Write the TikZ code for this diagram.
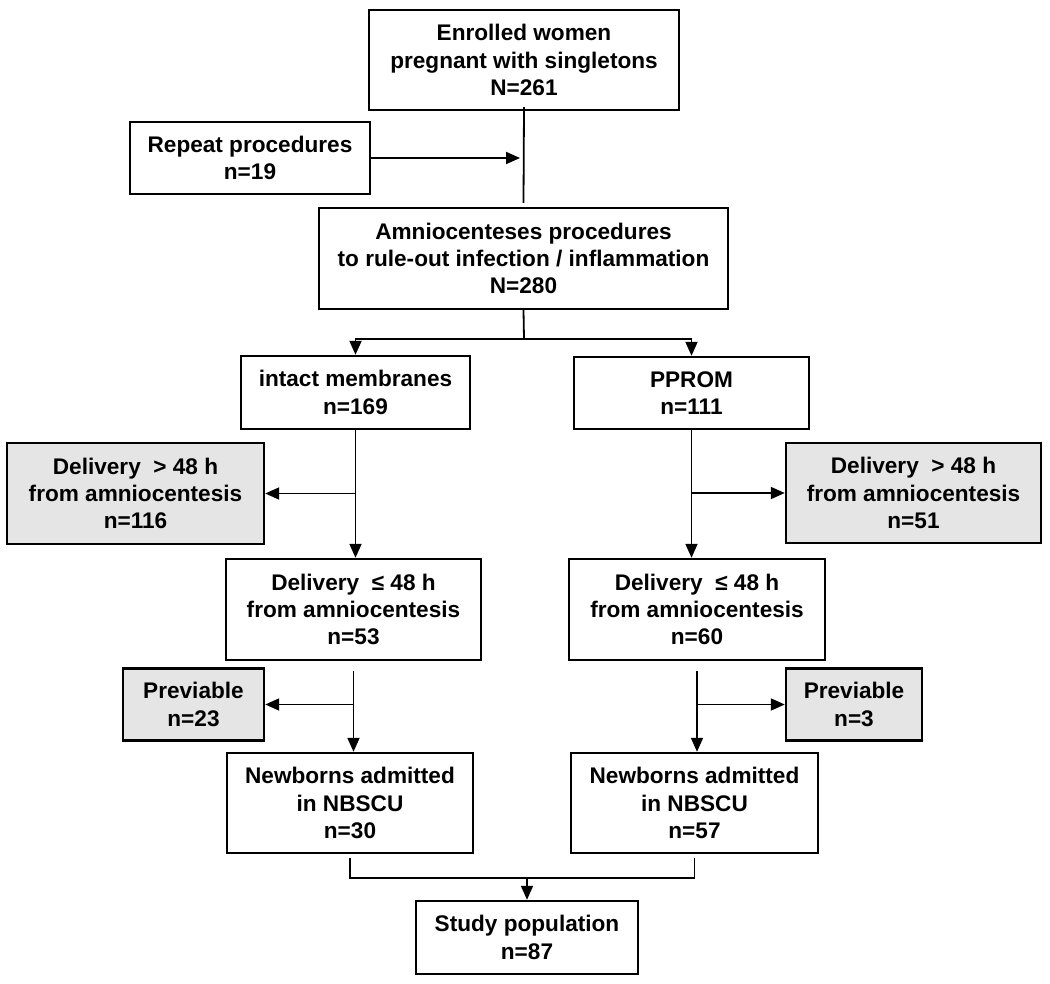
\documentclass[tikz,border=0pt]{standalone}
\usepackage{fontspec}
\setmainfont{Liberation Sans}
\usetikzlibrary{arrows.meta,positioning}
\definecolor{shade}{gray}{.9}
\def\Amn{from amniocentesis}

\begin{document}
\begin{tikzpicture}[x=0.5pt,y=-0.5pt,% one unit = one pixel of the 1050x984 page
			every node/.style={
				align=center,  		% so that "\\" breaks the line
				inner sep=0pt,
				font=\fontsize{11.3}{13.6}\selectfont\bfseries
			},
			box/.style 2 args={rectangle,draw=black,line width=1.2pt,fill=white,
				minimum width=#1*0.5pt,minimum height=#2*0.5pt},
			grey/.style={fill=shade},
			link/.style={draw,line width=0.9pt},
			arr/.style={link,-{Triangle[length=7pt,width=6pt]}}
		]
		\useasboundingbox (0,0) rectangle (1050,984);
		% main column
		\node[box={310}{100}](B1) at (524,60) {Enrolled women\\ pregnant with singletons\\ N=261};
		\node[box={240}{72}](B2) at (250,158) {Repeat procedures\\ n=19};
		\node[box={409}{101}](B3) at (523.5,258.5) {Amniocenteses procedures\\ to rule-out infection / inflammation\\ N=280};
		% left branch
		\node[box={229}{73}](B4) at (355.5,392.5) {intact membranes\\ n=169};
		\node[box={257}{101},grey](B6) at (135.5,493.5) {Delivery~ > 48 h\\ \Amn\\ n=116};
		\node[box={255}{101}](B7) at (353.5,609.5) {Delivery~ ≤ 48 h\\ \Amn\\ n=53};
		\node[box={141}{72},grey](B10) at (193.5,704.5) {Previable\\ n=23};
		\node[box={246}{100}](B12) at (350,803) {Newborns admitted\\ in NBSCU\\ n=30};
		% right branch
		\node[box={235}{72}](B5) at (691.5,393) {PPROM\\ n=111};
		\node[box={255}{100},grey](B8) at (913.5,493) {Delivery~ > 48 h\\ \Amn\\ n=51};
		\node[box={256}{101}](B9) at (697,609.5) {Delivery~ ≤ 48 h\\ \Amn\\ n=60};
		\node[box={136}{72},grey](B11) at (854,704.5) {Previable\\ n=3};
		\node[box={247}{100}](B13) at (694.5,803) {Newborns admitted\\ in NBSCU\\ n=57};
		% end
		\node[box={222}{73}](B14) at (527,937.5) {Study population\\ n=87};
		\coordinate (S) at (524,339);
		\coordinate (J) at (527,878);

		\path[link] (B1.south) ++(0,-4) -- ([yshift=2pt]B3.north);
		\path[arr] (B2.east) -- ([xshift=-2pt]B2.east -| B1.south);
		\path[link] (B3.south) -- (S);
		\path[arr] (S) -| (B4.north);
		\path[arr] (S) -| (B5.north);
		\path[arr] (B4.south) -- (B4.south |- B7.north);
		\path[arr] (B4.south |- B6.east) -- (B6.east);
		\path[arr] (B5.south) -- (B5.south |- B9.north);
		\path[arr] (B5.south |- B8.west) -- (B8.west);
		\path[arr] ([yshift=-5pt]B7.south) -- (B7.south |- B12.north);
		\path[arr] (B7.south |- B10.east) -- (B10.east);
		\path[arr] ([yshift=-5pt]B9.south) -- (B9.south |- B13.north);
		\path[arr] (B9.south |- B11.west) -- (B11.west);
		\path[link] ([yshift=-2pt]B12.south) |- (J) -| ([yshift=-2pt]B13.south);
		\path[arr] (J) -- (B14.north);
	\end{tikzpicture}
\end{document}
